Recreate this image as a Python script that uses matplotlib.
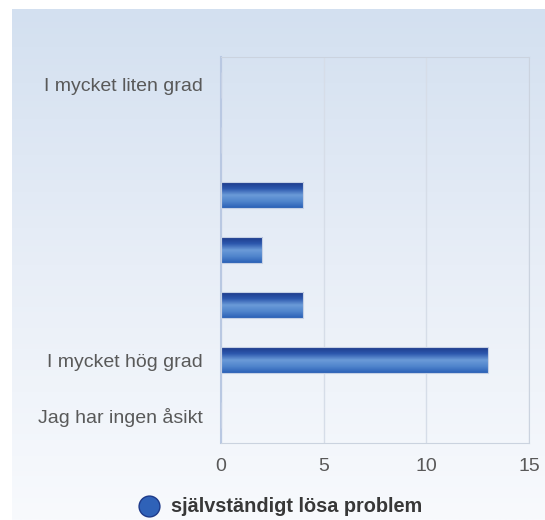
import numpy as np
import matplotlib.pyplot as plt
from matplotlib.lines import Line2D
from matplotlib.colors import LinearSegmentedColormap

categories = ["I mycket liten grad", "", "", "", "", "I mycket hög grad", "Jag har ingen åsikt"]
values = [0, 0, 4, 2, 4, 13, 0]
series_name = "självständigt lösa problem"
x_ticks = [0, 5, 10, 15]

W, H = 545, 520
fig = plt.figure(figsize=(W / 100, H / 100), dpi=100)
fig.patch.set_facecolor("white")
plt.rcParams["font.family"] = ["Liberation Sans", "DejaVu Sans"]

# background panel with vertical gradient
bg = fig.add_axes([12 / W, 0, 1 - 12 / W, 1 - 9 / H])
bg_cmap = LinearSegmentedColormap.from_list("bg", ["#f8fafd", "#e8eef7", "#d3e0f0"])
bg.imshow(np.linspace(0, 1, 256).reshape(-1, 1), aspect="auto", cmap=bg_cmap,
          origin="lower", extent=[0, 1, 0, 1])
bg.set_axis_off()

ax = fig.add_axes([221 / W, (H - 443) / H, (529 - 221) / W, (443 - 57) / H])
ax.patch.set_alpha(0)

y = np.arange(len(categories))
bars = ax.barh(y, values, height=0.47, color="none", edgecolor="#c5d0e4", linewidth=0.8, zorder=3)

bar_cmap = LinearSegmentedColormap.from_list(
    "bar", ["#1d3a8a", "#2c57ad", "#6b9bd8", "#4f84cc", "#2a60b6"])
grad = np.linspace(0, 1, 128).reshape(-1, 1)
for b in bars:
    if b.get_width() <= 0:
        continue
    x0, y0 = b.get_x(), b.get_y()
    im = ax.imshow(grad, aspect="auto", cmap=bar_cmap, origin="upper",
                   extent=[x0, x0 + b.get_width(), y0 + b.get_height(), y0], zorder=2)
    im.set_clip_path(b)

ax.set_ylim(len(categories) - 0.5, -0.5)
ax.set_xlim(0, 15)
ax.set_xticks(x_ticks)
ax.set_yticks(y)
ax.set_yticklabels(categories)
ax.tick_params(length=0, colors="#595959", labelsize=14)
ax.tick_params(axis="x", pad=11)
ax.tick_params(axis="y", pad=13)
ax.xaxis.grid(True, color="#d6dde8", linewidth=1)
ax.set_axisbelow(True)
for s in ax.spines.values():
    s.set_color("#cbd3df")
ax.spines["left"].set_color("#b9c8e2")
ax.spines["left"].set_linewidth(1.5)

handle = Line2D([], [], marker="o", linestyle="none", markersize=15,
                markerfacecolor="#2f62b8", markeredgecolor="#1d3a8a")
leg = fig.legend([handle], [series_name], loc="center", bbox_to_anchor=(276 / W, 1 - 507 / H),
                 frameon=False, handletextpad=0.1, fontsize=14.3)
for t in leg.get_texts():
    t.set_fontweight("bold")
    t.set_color("#383838")

fig.savefig("out.png", dpi=100)
